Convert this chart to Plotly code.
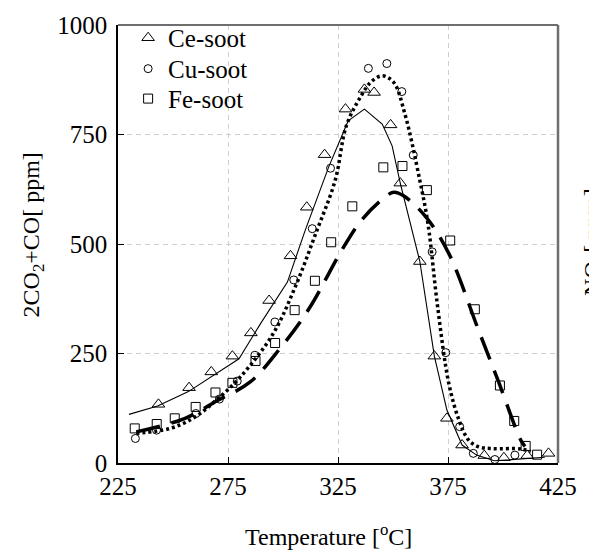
import plotly.graph_objects as go

# ---- data ----
ce_T = [243.4, 257.3, 267.4, 277.0, 285.4, 293.7, 303.4, 310.8, 318.9, 328.4, 337.0, 341.4,
        348.9, 353.3, 362.2, 368.8, 374.5, 381.4, 391.5, 400.4, 411.0, 420.7]
ce_C = [134, 172, 208, 244, 297, 371, 473, 584, 704, 808, 853, 846,
        772, 639, 460, 244, 102, 41, 17, 12, 17, 22]

cu_T = [232.9, 242.5, 260.4, 271.1, 279.2, 287.2, 296.3, 304.9, 313.3, 321.6, 338.8, 347.2,
        354.0, 359.2, 367.8, 374.0, 380.3, 386.5, 396.3, 405.4]
cu_C = [56, 75, 113, 146, 187, 246, 322, 418, 535, 673, 901, 912,
        848, 703, 482, 252, 83, 22, 8, 18]

fe_T = [232.6, 242.6, 250.8, 260.3, 269.3, 277.0, 287.5, 296.4, 305.3, 314.5, 321.9, 331.5,
        345.6, 354.3, 365.4, 376.0, 387.2, 398.6, 405.1, 410.3, 415.5]
fe_C = [79, 89, 102, 128, 161, 183, 233, 274, 349, 416, 504, 586,
        675, 678, 623, 508, 351, 177, 96, 39, 19]

ce_fit_T = [230, 243, 257, 267, 277, 280, 290, 302, 310, 320.7, 329.6, 337, 345.1, 349.6,
            353.3, 362.2, 368.8, 374.5, 381.4, 388, 396, 410, 419]
ce_fit_C = [111, 130, 163, 195, 228, 238, 320, 413, 530, 675, 781, 808, 774, 724,
            639, 460, 244, 121, 41, 18, 5, 9, 13]

cu_fit_T = [233.3, 248.8, 260, 270, 280.7, 295.5, 305.8, 314.8, 323.7, 328.8, 335.5, 340,
            345.1, 350.3, 355.4, 362.2, 365.9, 370.3, 375.4, 380, 384.4, 388.9, 395, 408.1, 412.6]
cu_fit_C = [68, 79, 105, 145, 197, 295, 405, 523, 645, 770, 838, 870,
            884, 869, 797, 645, 546, 356, 181, 98, 52, 37, 33, 32, 26]

fe_fit_T = [233.3, 255.5, 270, 285.1, 299.2, 311.8, 326.6, 335, 344.4, 350.3, 354.8, 365.1,
            375.4, 388.9, 397.7, 408.1, 410]
fe_fit_C = [71, 102, 142, 185, 265, 352, 485, 550, 599, 618, 610, 561,
            478, 303, 189, 52, 38]

x_ticks = [225, 275, 325, 375, 425]
y_ticks = [0, 250, 500, 750, 1000]

FONT = '"Liberation Serif", "Times New Roman", Times, serif'

fig = go.Figure()

# fit lines (not in legend)
fig.add_trace(go.Scatter(x=ce_fit_T, y=ce_fit_C, mode="lines", showlegend=False,
                         line=dict(color="black", width=1.1)))
fig.add_trace(go.Scatter(x=cu_fit_T, y=cu_fit_C, mode="lines", showlegend=False,
                         line=dict(color="black", width=3.5, dash="3px,3px", shape="spline")))
fig.add_trace(go.Scatter(x=fe_fit_T, y=fe_fit_C, mode="lines", showlegend=False,
                         line=dict(color="black", width=3.5, dash="24px,12px", shape="spline")))

# markers
fig.add_trace(go.Scatter(x=ce_T, y=ce_C, mode="markers", name="Ce-soot", legend="legend",
                         marker=dict(symbol="triangle-up-open", size=11, color="black",
                                     line=dict(width=1, color="black"))))
fig.add_trace(go.Scatter(x=cu_T, y=cu_C, mode="markers", name="Cu-soot", legend="legend2",
                         marker=dict(symbol="circle-open", size=8, color="black",
                                     line=dict(width=1, color="black"))))
fig.add_trace(go.Scatter(x=fe_T, y=fe_C, mode="markers", name="Fe-soot", legend="legend3",
                         marker=dict(symbol="square-open", size=9, color="black",
                                     line=dict(width=1, color="black"))))

axis_common = dict(
    showgrid=True, gridcolor="#cfcfcf", griddash="5px,4px", gridwidth=1,
    zeroline=False, showline=True, linecolor="black", linewidth=1.5,
    ticks="inside", ticklen=6, tickcolor="black",
    tickfont=dict(family=FONT, size=25, color="black"),
)

fig.update_xaxes(range=[225, 425], tickvals=x_ticks, ticktext=[str(v) for v in x_ticks],
                 **axis_common)
fig.update_yaxes(range=[0, 1000], tickvals=y_ticks, ticktext=[str(v) for v in y_ticks],
                 ticklabelstandoff=4, **axis_common)

# top / right frame in gray
fig.add_shape(type="line", xref="paper", yref="paper", x0=0, x1=1, y0=1, y1=1,
              line=dict(color="#6e6e6e", width=2))
fig.add_shape(type="line", xref="paper", yref="paper", x0=1, x1=1, y0=0, y1=1,
              line=dict(color="#6e6e6e", width=2.5))

# axis titles as annotations
fig.add_annotation(text="Temperature [<sup>o</sup>C]", xref="paper", yref="paper",
                   x=(333 - 118) / 450, y=-(535 - 463) / 439, xanchor="center", yanchor="middle",
                   showarrow=False, font=dict(family=FONT, size=24, color="black"))
fig.add_annotation(text="2CO<sub>2</sub>+CO[ ppm]", xref="paper", yref="paper",
                   x=-(118 - 31) / 450, y=(463 - 234) / 439, xanchor="center", yanchor="middle",
                   textangle=-90, showarrow=False, font=dict(family=FONT, size=24, color="black"))
fig.add_annotation(text="NO<sub>x</sub>[ ppm]", xref="paper", yref="paper",
                   x=(588 - 118) / 450, y=(463 - 298) / 439, xanchor="left", yanchor="bottom",
                   textangle=-90, showarrow=False, font=dict(family=FONT, size=24, color="black"))

leg = dict(x=0.023, xanchor="left", yanchor="middle", bgcolor="rgba(0,0,0,0)",
           font=dict(family=FONT, size=25, color="black"), itemwidth=30)

fig.update_layout(
    width=589, height=552,
    margin=dict(l=118, r=21, t=24, b=89),
    paper_bgcolor="white", plot_bgcolor="white",
    font=dict(family=FONT, color="black"),
    legend=dict(y=(463 - 37) / 439, **leg),
    legend2=dict(y=(463 - 68) / 439, **leg),
    legend3=dict(y=(463 - 98) / 439, **leg),
)

fig.write_html("out.html")
